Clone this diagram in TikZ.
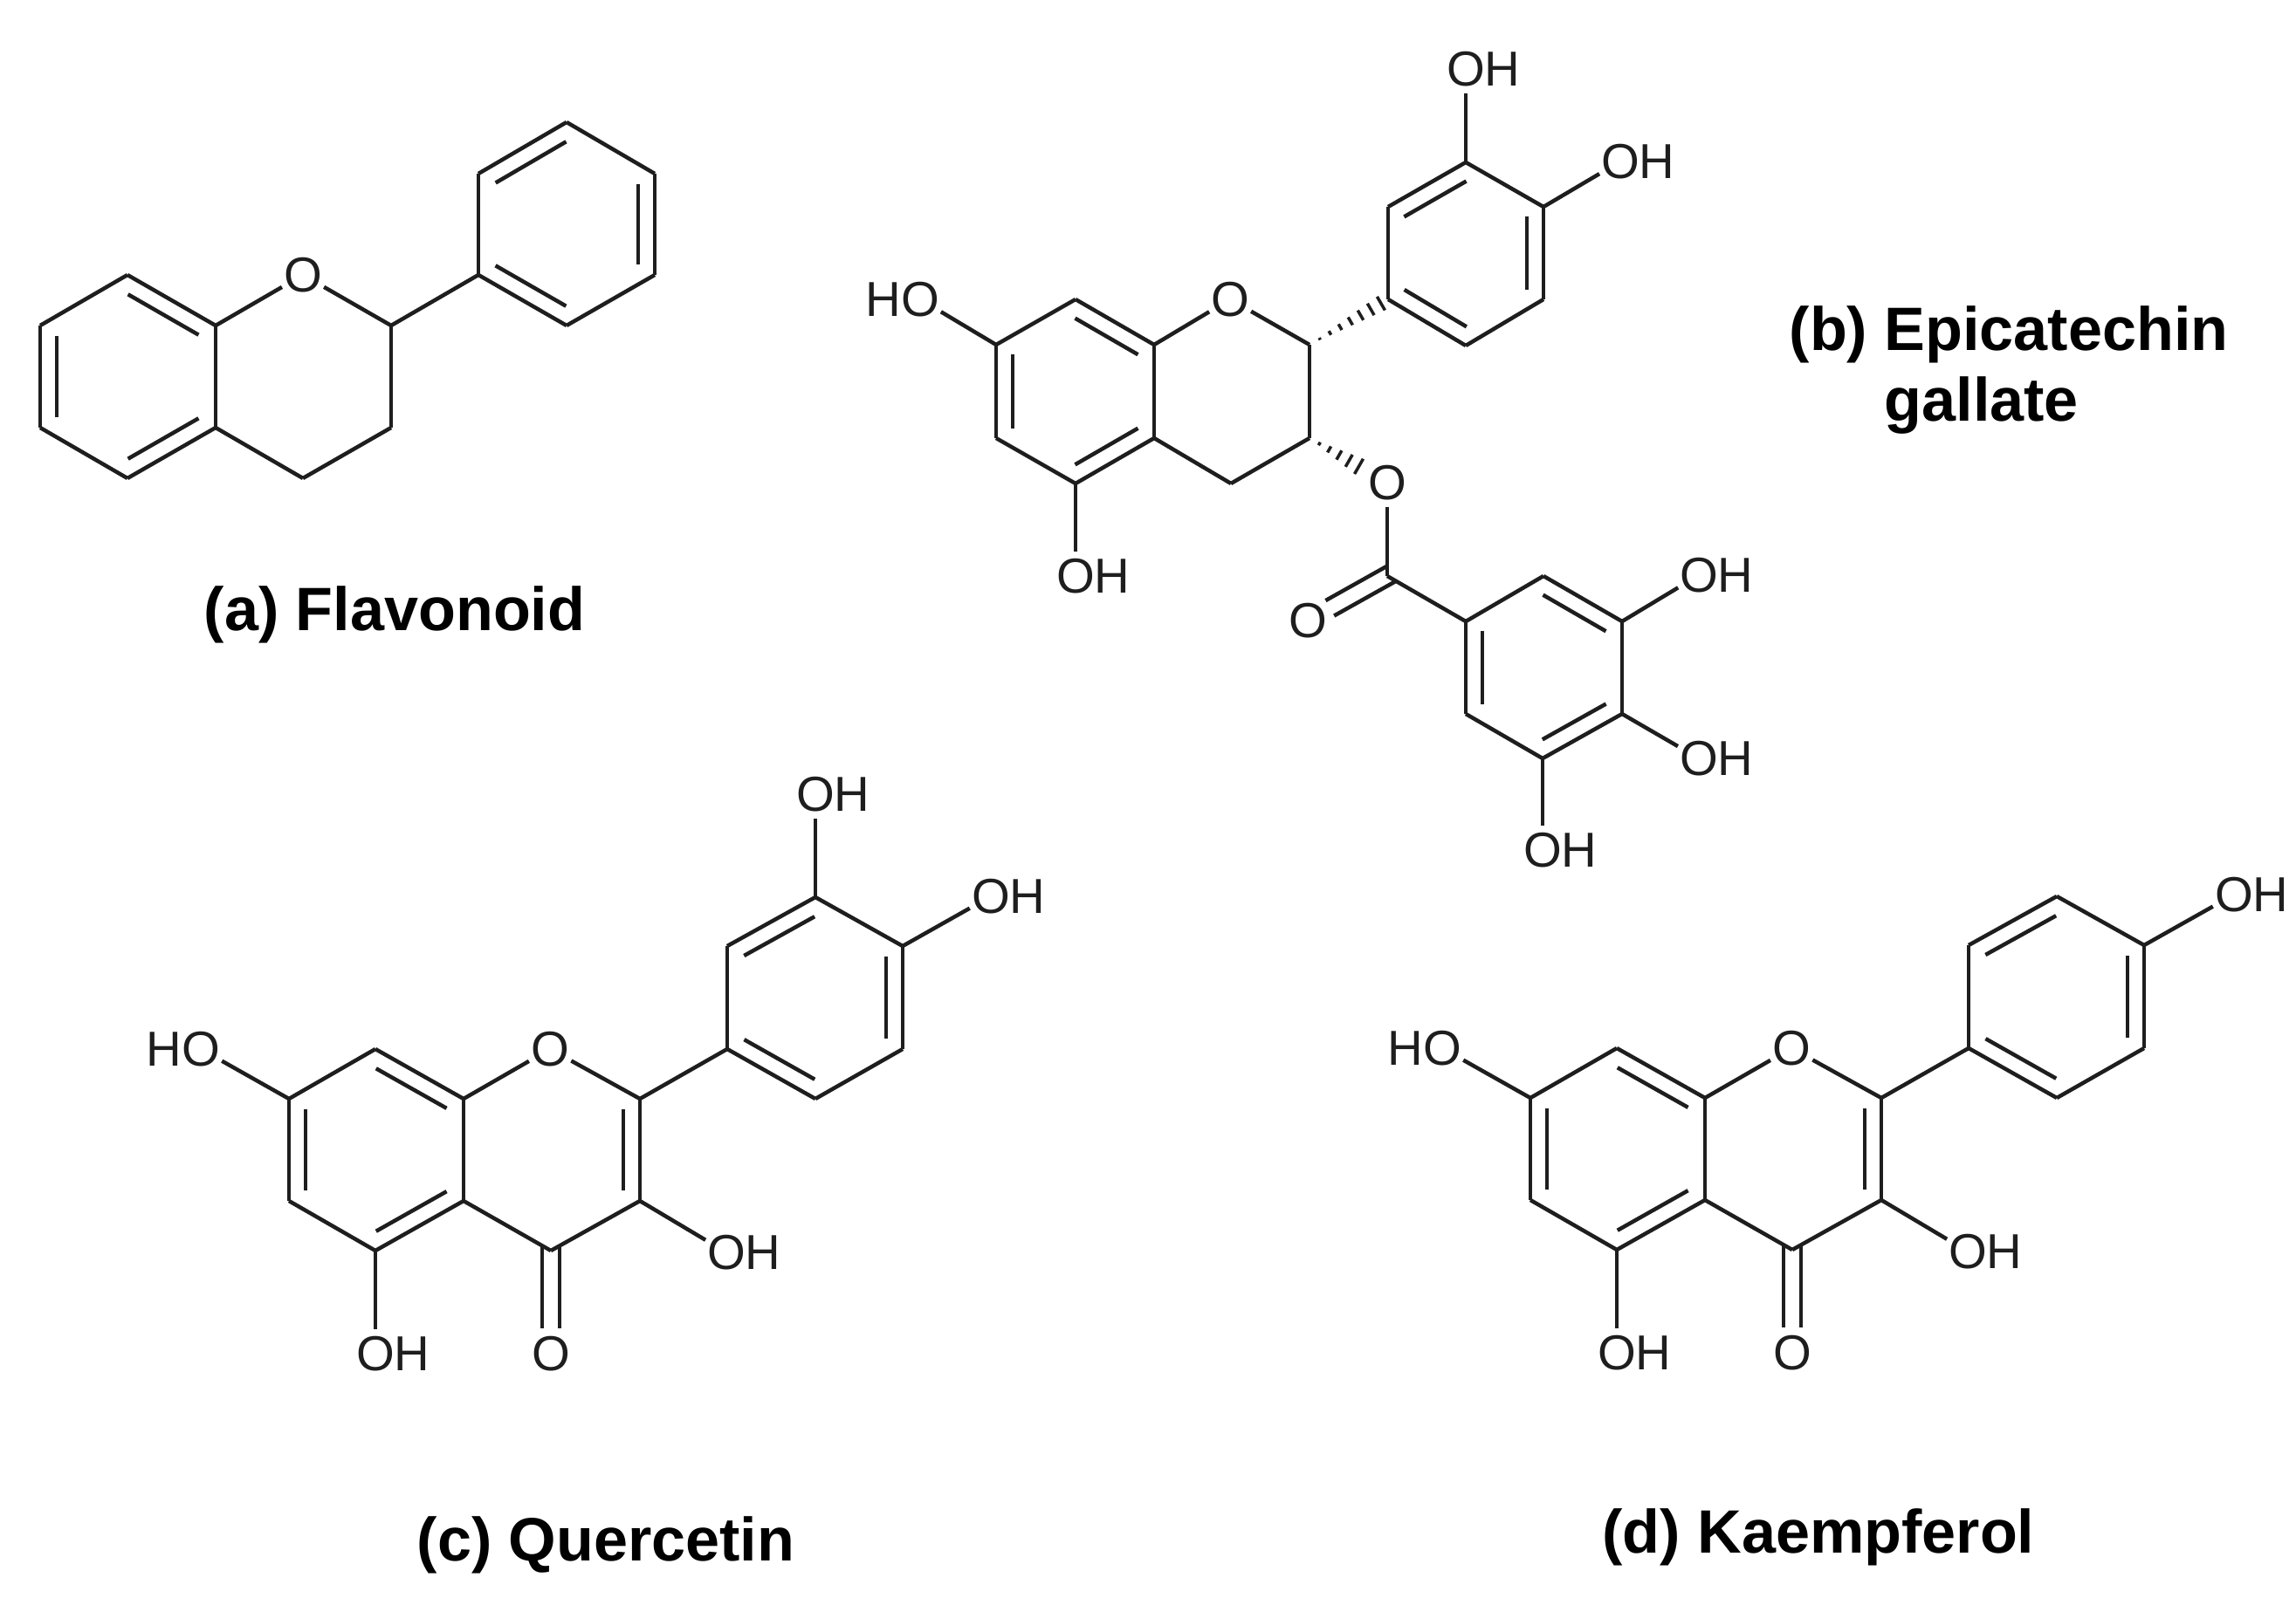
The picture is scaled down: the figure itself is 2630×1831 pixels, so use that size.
\documentclass[tikz,border=0pt]{standalone}
\usepackage{fontspec}
\setmainfont{Liberation Sans}
\usetikzlibrary{calc}

\definecolor{inkgray}{HTML}{1E1E1E}

\tikzset{
	bond/.style={line width=0.045cm, inkgray},
	hash/.style={line width=0.035cm, inkgray},
	atom/.style={circle, inner sep=-0.5pt, text=inkgray, font=\fontsize{16pt}{19pt}\selectfont},
	caption/.style={inner sep=0pt, text=black, font=\fontsize{19.95pt}{24pt}\selectfont\bfseries}
}

% inner line of a ring double bond, ring centre on the left of a->b
\newcommand{\inbond}[2]{
	\draw[bond] ($(#1)!.1!(#2)!.19cm!90:(#2)$) -- ($(#1)!.9!(#2)!.19cm!90:(#2)$);
}
% C=O
\newcommand{\oxobond}[2]{
	\draw[bond, shorten <=-.05cm, shorten >=.29cm] ($(#1)!.1cm!90:(#2)$) -- ($(#2)!.1cm!-90:(#1)$);
	\draw[bond, shorten <=-.05cm, shorten >=.29cm] ($(#1)!.1cm!-90:(#2)$) -- ($(#2)!.1cm!90:(#1)$);
}
% from, to, number of hashes, step along the bond, last half width (cm)
\newcommand{\hashbond}[5]{
	\foreach \i in {1,...,#3}{
		\pgfmathsetmacro{\hpos}{\i*#4}
		\pgfmathsetmacro{\hlen}{#5*\i/#3}
		\draw[hash] ($(#1)!\hpos!(#2)!\hlen cm!90:(#2)$) -- ($(#1)!\hpos!(#2)!\hlen cm!-90:(#2)$);
	}
}

\begin{document}
\begin{tikzpicture}[x=0.01cm, y=-0.01cm]

	\useasboundingbox (0,0) rectangle (2630,1831);

	% (a) Coordinates
	\foreach \n/\x/\y in {a1/146/315, a2/46/373, a3/46/490, a4/146/548, a5/247/490, a6/247/373,
		a7/448/373, a8/448/490, a9/347/548,
		p1/548/315, p2/548/199, p3/649/140, p4/750/199, p5/750/315, p6/649/373}{
		\coordinate (\n) at (\x,\y);
	}
	\node[atom] (aO) at (347,315) {O};

	% (a) Bonds
	\foreach \a/\b in {a1/a2, a2/a3, a3/a4, a4/a5, a5/a6, a6/a1, a6/aO, aO/a7, a7/a8, a8/a9, a9/a5,
		a7/p1, p1/p2, p2/p3, p3/p4, p4/p5, p5/p6, p6/p1}{
		\draw[bond] (\a) -- (\b);
	}
	\foreach \a/\b in {a2/a3, a4/a5, a6/a1, p3/p2, p1/p6, p5/p4}{
		\inbond{\a}{\b}
	}

	% (b) Coordinates
	\foreach \n/\x/\y in {e7/1141/395, e8/1232/343, e8a/1322/395, e4a/1322/502, e5/1232/554, e6/1141/502,
		e2/1500/395, e3/1500/502, e4/1410/554,
		r1/1590/343, r2/1590/237, r3/1679/186, r4/1768/237, r5/1768/343, r6/1679/396,
		g0/1589/660, g1/1679/712, g2/1768/660, g3/1858/712, g4/1858/818, g5/1767/869, g6/1679/818}{
		\coordinate (\n) at (\x,\y);
	}
	\node[atom] (eO) at (1409,343) {O};
	\node[atom] (eOH7) at (1054,343) {\llap{H}O};
	\node[atom] (eOH5) at (1232,660) {O\rlap{H}};
	\node[atom] (rOH3) at (1679,79) {O\rlap{H}};
	\node[atom] (rOH4) at (1856,185) {O\rlap{H}};
	\node[atom] (eOe) at (1589,553) {O};
	\node[atom] (gO) at (1498,711) {O};
	\node[atom] (gOH3) at (1946,659) {O\rlap{H}};
	\node[atom] (gOH4) at (1946,869) {O\rlap{H}};
	\node[atom] (gOH5) at (1767,974) {O\rlap{H}};

	% (b) Bonds
	\foreach \a/\b in {e7/e8, e8/e8a, e8a/e4a, e4a/e5, e5/e6, e6/e7, e8a/eO, eO/e2, e2/e3, e3/e4, e4/e4a,
		r1/r2, r2/r3, r3/r4, r4/r5, r5/r6, r6/r1, r3/rOH3, r4/rOH4, e7/eOH7, e5/eOH5,
		eOe/g0, g0/g1, g1/g2, g2/g3, g3/g4, g4/g5, g5/g6, g6/g1, g3/gOH3, g4/gOH4, g5/gOH5}{
		\draw[bond] (\a) -- (\b);
	}
	\foreach \a/\b in {e7/e6, e5/e4a, e8a/e8, r3/r2, r1/r6, r5/r4, g1/g6, g5/g4, g3/g2}{
		\inbond{\a}{\b}
	}
	\oxobond{g0}{gO}
	\hashbond{e2}{r1}{7}{.13}{.09}
	\hashbond{e3}{eOe}{5}{.127}{.10}

	% (c) and (d) common part
	\foreach \m/\dx/\dy in {q/0/0, k/1422/-1}{
		\foreach \n/\x/\y in {c7/331/1259, c8/430/1202, c8a/531/1259, c4a/531/1376, c5/430/1433, c6/331/1376,
			c2/733/1259, c3/733/1376, c4/631/1433,
			b1/833/1202, b2/833/1084, b3/934/1028, b4/1034/1084, b5/1034/1202, b6/934/1259}{
			\coordinate (\m\n) at (\x+\dx,\y+\dy);
		}
		\node[atom] (\m O) at (630+\dx,1202+\dy) {O};
		\node[atom] (\m OH7) at (230+\dx,1202+\dy) {\llap{H}O};
		\node[atom] (\m OH5) at (430+\dx,1551+\dy) {O\rlap{H}};
		\node[atom] (\m OH3) at (832+\dx,1435+\dy) {O\rlap{H}};
		\node[atom] (\m Ok) at (631+\dx,1551+\dy) {O};
		\foreach \a/\b in {c7/c8, c8/c8a, c8a/c4a, c4a/c5, c5/c6, c6/c7, c8a/O, O/c2, c2/c3, c3/c4, c4/c4a,
			c2/b1, b1/b2, b2/b3, b3/b4, b4/b5, b5/b6, b6/b1, c7/OH7, c5/OH5, c3/OH3}{
			\draw[bond] (\m\a) -- (\m\b);
		}
		\foreach \a/\b in {c7/c6, c5/c4a, c8a/c8, c3/c2, b3/b2, b1/b6, b5/b4}{
			\inbond{\m\a}{\m\b}
		}
		\oxobond{\m c4}{\m Ok}
	}

	% (c) and (d) hydroxyls of the side ring
	\node[atom] (qOHt) at (934,910) {O\rlap{H}};
	\node[atom] (qOHr) at (1135,1027) {O\rlap{H}};
	\node[atom] (kOHr) at (2559,1025) {O\rlap{H}};
	\draw[bond] (qb3) -- (qOHt);
	\draw[bond] (qb4) -- (qOHr);
	\draw[bond] (kb4) -- (kOHr);

	% Captions
	\node[caption, anchor=base] (capa) at (452,723) {(a) Flavonoid};
	\node[caption, anchor=base west] (capb) at (2049,402) {(b) Epicatechin};
	\node[caption, anchor=base west] (capg) at (2158,483) {gallate};
	\node[caption, anchor=base] (capc) at (694,1788) {(c) Quercetin};
	\node[caption, anchor=base] (capd) at (2083,1779) {(d) Kaempferol};

\end{tikzpicture}
\end{document}
